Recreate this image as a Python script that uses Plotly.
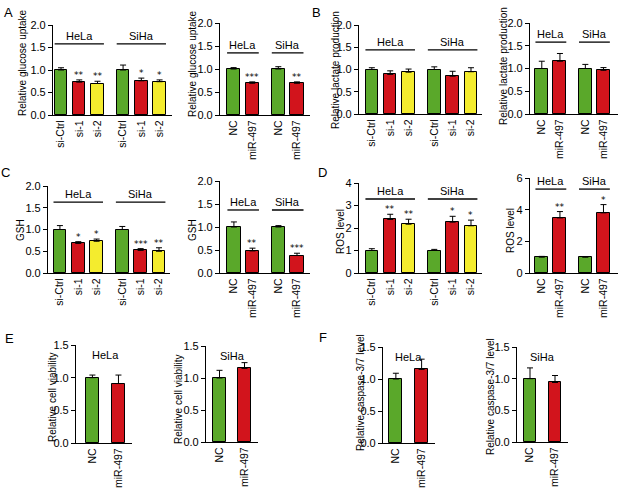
import plotly.graph_objects as go

W, H = 625, 492
GREEN = "#5aa82a"
RED = "#d2141c"
YELLOW = "#f4ec2e"
FONT = "Liberation Sans, Arial, sans-serif"
STAR_FONT = "DejaVu Sans, sans-serif"

# ---------------- data ----------------
si_labels = ["si-Ctrl", "si-1", "si-2"]
mir_labels = ["NC", "miR-497"]
cell_lines = ["HeLa", "SiHa"]

# A: glucose uptake
glucose_si_mean = [1.00, 0.73, 0.70, 1.00, 0.76, 0.74]
glucose_si_sem = [0.05, 0.05, 0.05, 0.11, 0.06, 0.04]
glucose_si_sig = ["", "**", "**", "", "*", "*"]
glucose_mir_mean = [1.00, 0.69, 1.00, 0.69]
glucose_mir_sem = [0.03, 0.03, 0.05, 0.03]
glucose_mir_sig = ["", "***", "", "**"]

# B: lactate production
lactate_si_mean = [1.00, 0.89, 0.94, 1.00, 0.85, 0.95]
lactate_si_sem = [0.04, 0.08, 0.07, 0.06, 0.11, 0.09]
lactate_si_sig = ["", "", "", "", "", ""]
lactate_mir_mean = [1.00, 1.16, 1.00, 0.96]
lactate_mir_sem = [0.16, 0.17, 0.09, 0.06]
lactate_mir_sig = ["", "", "", ""]

# C: GSH
gsh_si_mean = [1.00, 0.68, 0.73, 1.00, 0.52, 0.50]
gsh_si_sem = [0.09, 0.04, 0.05, 0.07, 0.04, 0.08]
gsh_si_sig = ["", "*", "*", "", "***", "**"]
gsh_mir_mean = [1.00, 0.48, 1.00, 0.38]
gsh_mir_sem = [0.11, 0.06, 0.03, 0.05]
gsh_mir_sig = ["", "**", "", "***"]

# D: ROS level
ros_si_mean = [1.00, 2.38, 2.17, 1.00, 2.26, 2.10]
ros_si_sem = [0.08, 0.23, 0.22, 0.05, 0.26, 0.25]
ros_si_sig = ["", "**", "**", "", "*", "*"]
ros_mir_mean = [1.00, 3.48, 1.00, 3.80]
ros_mir_sem = [0.05, 0.40, 0.03, 0.52]
ros_mir_sig = ["", "**", "", "*"]

# E: cell viability
viability_hela_mean = [1.00, 0.91]
viability_hela_sem = [0.04, 0.13]
viability_siha_mean = [1.00, 1.15]
viability_siha_sem = [0.12, 0.09]

# F: caspase-3/7
caspase_hela_mean = [1.00, 1.15]
caspase_hela_sem = [0.09, 0.16]
caspase_siha_mean = [1.00, 0.94]
caspase_siha_sem = [0.17, 0.11]

yt_2 = [0, 0.5, 1.0, 1.5, 2.0]
yt_4 = [0, 1, 2, 3, 4]
yt_6 = [0, 2, 4, 6]
yt_15 = [0, 0.5, 1.0, 1.5]

SI_COLORS = [GREEN, RED, YELLOW]
MIR_COLORS = [GREEN, RED]

# ---------------- panel layout specs (pixels) ----------------
panels = [
    dict(mean=glucose_si_mean, sem=glucose_si_sem, sig=glucose_si_sig, labels=si_labels, groups=cell_lines,
         colors=SI_COLORS, yt=yt_2, fmt="{:.1f}", title="Relative glucose uptake",
         box=(53, 172, 25, 115), pad=(0.44, 0.68), gy=1.58, tpos=(22, 63), bw=0.68),
    dict(mean=glucose_mir_mean, sem=glucose_mir_sem, sig=glucose_mir_sig, labels=mir_labels, groups=cell_lines,
         colors=MIR_COLORS, yt=yt_2, fmt="{:.1f}", title="Relative glucose uptake",
         box=(220, 310, 23, 115), pad=(0.73, 0.7), gy=1.35, tpos=(192, 63), bw=0.72),
    dict(mean=lactate_si_mean, sem=lactate_si_sem, sig=lactate_si_sig, labels=si_labels, groups=cell_lines,
         colors=SI_COLORS, yt=yt_2, fmt="{:.1f}", title="Relative lactate production",
         box=(359, 482, 25, 114), pad=(0.7, 0.6), gy=1.44, tpos=(335, 70), bw=0.68),
    dict(mean=lactate_mir_mean, sem=lactate_mir_sem, sig=lactate_mir_sig, labels=mir_labels, groups=cell_lines,
         colors=MIR_COLORS, yt=yt_2, fmt="{:.1f}", title="Relative lactate production",
         box=(530, 618, 23, 114), pad=(0.65, 0.8), gy=1.58, tpos=(503, 66), bw=0.72),
    dict(mean=gsh_si_mean, sem=gsh_si_sem, sig=gsh_si_sig, labels=si_labels, groups=cell_lines,
         colors=SI_COLORS, yt=yt_2, fmt="{:.1f}", title="GSH",
         box=(48, 170, 186, 273), pad=(0.65, 0.6), gy=1.63, tpos=(20, 230), bw=0.68),
    dict(mean=gsh_mir_mean, sem=gsh_mir_sem, sig=gsh_mir_sig, labels=mir_labels, groups=cell_lines,
         colors=MIR_COLORS, yt=yt_2, fmt="{:.1f}", title="GSH",
         box=(220, 310, 181, 273), pad=(0.75, 0.7), gy=1.37, tpos=(192, 230), bw=0.72),
    dict(mean=ros_si_mean, sem=ros_si_sem, sig=ros_si_sig, labels=si_labels, groups=cell_lines,
         colors=SI_COLORS, yt=yt_4, fmt="{:.0f}", title="ROS level",
         box=(359, 482, 183, 273), pad=(0.7, 0.6), gy=3.29, tpos=(340, 232), bw=0.68),
    dict(mean=ros_mir_mean, sem=ros_mir_sem, sig=ros_mir_sig, labels=mir_labels, groups=cell_lines,
         colors=MIR_COLORS, yt=yt_6, fmt="{:.0f}", title="ROS level",
         box=(530, 618, 178, 273), pad=(0.65, 0.8), gy=5.3, tpos=(510, 230), bw=0.72),
    dict(mean=viability_hela_mean, sem=viability_hela_sem, sig=["", ""], labels=mir_labels, groups=["HeLa"],
         colors=MIR_COLORS, yt=yt_15, fmt="{:.1f}", title="Relative cell viability",
         box=(76, 132, 345, 443), pad=(0.63, 0.52), gy=None, tpos=(52, 398), bw=0.5),
    dict(mean=viability_siha_mean, sem=viability_siha_sem, sig=["", ""], labels=mir_labels, groups=["SiHa"],
         colors=MIR_COLORS, yt=yt_15, fmt="{:.1f}", title="Relative cell viability",
         box=(206, 258, 346, 442), pad=(0.54, 0.54), gy=None, tpos=(178, 400), bw=0.5),
    dict(mean=caspase_hela_mean, sem=caspase_hela_sem, sig=["", ""], labels=mir_labels, groups=["HeLa"],
         colors=MIR_COLORS, yt=yt_15, fmt="{:.1f}", title="Relative caspase-3/7 level",
         box=(383, 435, 347, 443), pad=(0.5, 0.52), gy=None, tpos=(360, 393), bw=0.5),
    dict(mean=caspase_siha_mean, sem=caspase_siha_sem, sig=["", ""], labels=mir_labels, groups=["SiHa"],
         colors=MIR_COLORS, yt=yt_15, fmt="{:.1f}", title="Relative caspase-3/7 level",
         box=(517, 568, 347, 442), pad=(0.52, 0.52), gy=None, tpos=(490, 397), bw=0.5),
]

letters = [("A", 8, 12), ("B", 316, 12), ("C", 6, 172), ("D", 322, 172), ("E", 9, 338), ("F", 323, 337)]

GAP = 0.4
fig = go.Figure()
layout = dict(width=W, height=H, margin=dict(l=0, r=0, t=0, b=0, autoexpand=False),
              paper_bgcolor="white", plot_bgcolor="white", showlegend=False,
              font=dict(family=FONT, color="black", size=10), bargap=0)
annotations = []
shapes = []

for k, p in enumerate(panels):
    sfx = "" if k == 0 else str(k + 1)
    xn, yn = "x" + sfx, "y" + sfx
    n = len(p["labels"])
    ng = len(p["groups"])
    pos = [g * (n + GAP) + i for g in range(ng) for i in range(n)]
    colors = p["colors"] * ng
    fig.add_trace(go.Bar(
        x=pos, y=p["mean"], width=p["bw"], xaxis=xn, yaxis=yn,
        marker=dict(color=colors, line=dict(color="black", width=1)),
        error_y=dict(type="data", array=p["sem"], arrayminus=[0] * len(p["sem"]), symmetric=False,
                     color="black", thickness=1, width=3),
        hoverinfo="skip"))
    L, R, T, B = p["box"]
    ymax = p["yt"][-1]
    layout["xaxis" + sfx] = dict(
        domain=[L / W, R / W], range=[-p["pad"][0], pos[-1] + p["pad"][1]], anchor=yn,
        tickmode="array", tickvals=pos, ticktext=p["labels"] * ng, tickangle=-90,
        ticks="", showline=True, linecolor="black", linewidth=1.2, showgrid=False, zeroline=False,
        tickfont=dict(size=10.5, family=FONT, color="black"))
    layout["yaxis" + sfx] = dict(
        domain=[1 - B / H, 1 - T / H], range=[0, ymax], anchor=xn,
        tickmode="array", tickvals=p["yt"], ticktext=[p["fmt"].format(v) for v in p["yt"]],
        ticks="outside", ticklen=4, tickwidth=1.2, tickcolor="black",
        showline=True, linecolor="black", linewidth=1.2, showgrid=False, zeroline=False,
        tickfont=dict(size=11, family=FONT, color="black"))
    # significance stars
    for xi, m, s, sg in zip(pos, p["mean"], p["sem"], p["sig"]):
        if sg:
            annotations.append(dict(x=xi, y=m + s, xref=xn, yref=yn, text=sg, showarrow=False,
                                    yanchor="bottom", yshift=-2,
                                    font=dict(size=9, family=STAR_FONT, color="#000000")))
    # group lines / labels
    for g, name in enumerate(p["groups"]):
        gp = pos[g * n:(g + 1) * n]
        if p["gy"] is not None:
            shapes.append(dict(type="line", xref=xn, yref=yn, x0=gp[0] - 0.35, x1=gp[-1] + 0.35,
                               y0=p["gy"], y1=p["gy"], line=dict(color="black", width=1.3)))
            annotations.append(dict(x=(gp[0] + gp[-1]) / 2, y=p["gy"], xref=xn, yref=yn, text=name,
                                    showarrow=False, yanchor="bottom", yshift=0,
                                    font=dict(size=11, family=FONT, color="black")))
        else:
            annotations.append(dict(x=(gp[0] + gp[-1]) / 2, y=ymax * 0.9, xref=xn, yref=yn, text=name,
                                    showarrow=False, yanchor="middle",
                                    font=dict(size=11, family=FONT, color="black")))
    # y title
    tx, ty = p["tpos"]
    annotations.append(dict(x=tx / W, y=1 - ty / H, xref="paper", yref="paper", text=p["title"],
                            textangle=-90, showarrow=False, xanchor="center", yanchor="middle",
                            font=dict(size=10, family=FONT, color="black")))

for lt, lx, ly in letters:
    annotations.append(dict(x=lx / W, y=1 - ly / H, xref="paper", yref="paper", text=lt, showarrow=False,
                            xanchor="center", yanchor="middle", font=dict(size=13, family=FONT, color="black")))

layout["annotations"] = annotations
layout["shapes"] = shapes
fig.update_layout(**layout)
fig.write_html("out.html", config={"displayModeBar": False},
               post_script="document.body.style.margin='0';document.body.style.overflow='hidden';")
